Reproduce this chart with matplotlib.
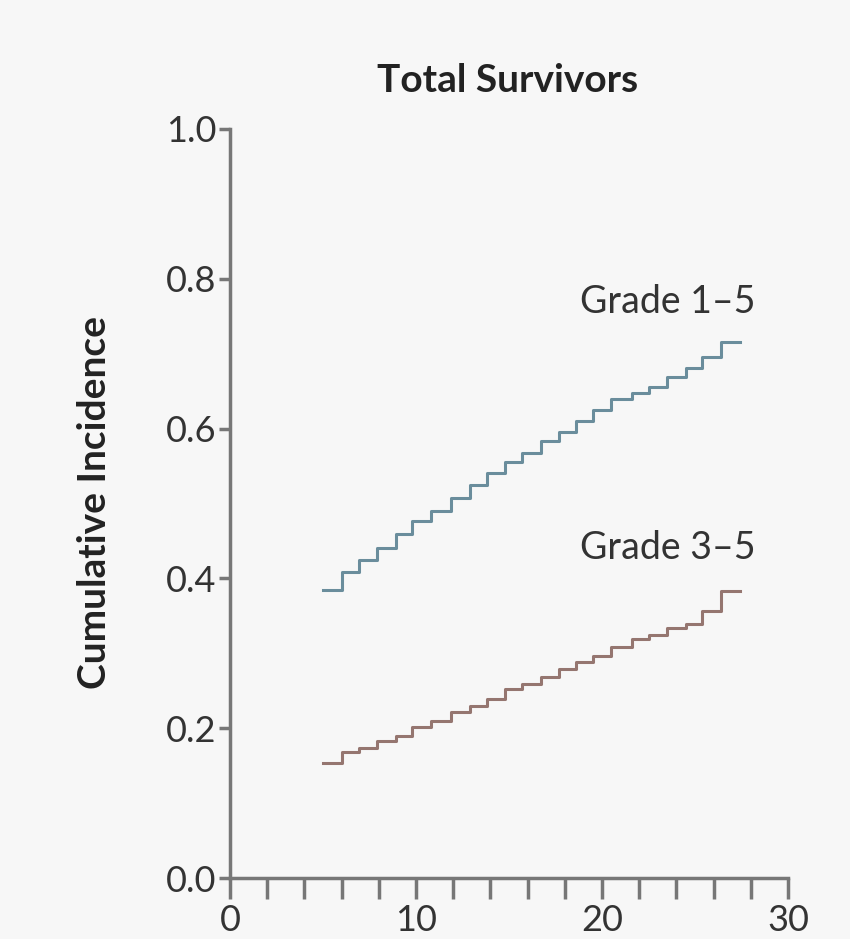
import numpy as np
import matplotlib.pyplot as plt

# step times (years) and cumulative incidence levels
t_steps = [5.0, 6.0, 6.96, 7.9, 8.9, 9.8, 10.8, 11.9, 12.9, 13.8, 14.8, 15.7,
           16.7, 17.7, 18.6, 19.5, 20.5, 21.6, 22.5, 23.5, 24.5, 25.4, 26.4]
t_end = 27.4
grade15 = [0.385, 0.408, 0.425, 0.441, 0.459, 0.476, 0.490, 0.508, 0.525, 0.541,
           0.555, 0.568, 0.583, 0.596, 0.610, 0.625, 0.639, 0.647, 0.656, 0.669,
           0.681, 0.696, 0.715]
grade35 = [0.154, 0.168, 0.174, 0.183, 0.190, 0.201, 0.210, 0.221, 0.230, 0.239,
           0.252, 0.259, 0.268, 0.279, 0.288, 0.296, 0.308, 0.319, 0.325, 0.334,
           0.339, 0.356, 0.383]

labels = ["Grade 1\u20135", "Grade 3\u20135"]
colors = ["#6a8d9c", "#957670"]

plt.rcParams['font.family'] = ['Lato', 'DejaVu Sans']
bg = "#f7f7f7"
fig = plt.figure(figsize=(8.5, 9.39), dpi=100, facecolor=bg)
ax = fig.add_axes([230/850, 1-878/939, 558/850, (878-129)/939])
ax.set_facecolor(bg)

for ys, c in zip([grade15, grade35], colors):
    xs = np.append(t_steps, t_end)
    yy = np.append(ys, ys[-1])
    ax.step(xs, yy, where='post', color=c, lw=2.2)

ax.text(18.8, 0.769, labels[0], fontsize=27, color="#333333", va='center')
ax.text(18.8, 0.44, labels[1], fontsize=27, color="#333333", va='center')

ax.set_xlim(0, 30)
ax.set_ylim(0, 1)
for s in ['top', 'right']:
    ax.spines[s].set_visible(False)
for s in ['left', 'bottom']:
    ax.spines[s].set_color("#777777")
    ax.spines[s].set_linewidth(2.5)

ax.set_yticks([0, 0.2, 0.4, 0.6, 0.8, 1.0])
ax.set_yticklabels(["0.0", "0.2", "0.4", "0.6", "0.8", "1.0"])
ax.set_xticks([0, 10, 20, 30])
ax.set_xticks(np.arange(0, 31, 2), minor=True)
ax.tick_params(axis='both', which='both', direction='out', colors="#777777",
               labelcolor="#333333", labelsize=26, width=2.5)
ax.tick_params(axis='y', length=8, pad=2)
ax.tick_params(axis='x', which='both', length=15, pad=4)

ax.set_ylabel("Cumulative Incidence", fontsize=28, fontweight='bold',
              color="#222222")
ax.yaxis.set_label_coords(-0.212, 0.502)
fig.text(508/850, 1-80/939, "Total Survivors", fontsize=28, fontweight='bold',
         ha='center', va='center', color="#222222")

fig.savefig("out.png", dpi=100, facecolor=bg)
